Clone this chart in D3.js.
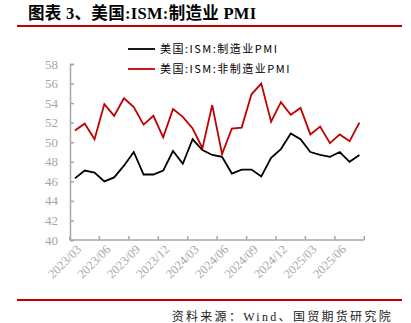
<!DOCTYPE html>
<html><head><meta charset="utf-8">
<script src="https://cdn.jsdelivr.net/npm/d3@7"></script>
<style>body{margin:0;background:#fff}svg{display:block}</style>
</head><body><svg id="c" width="411" height="323"></svg>
<script>
const months = ["2023/03","2023/04","2023/05","2023/06","2023/07","2023/08","2023/09","2023/10","2023/11","2023/12",
"2024/01","2024/02","2024/03","2024/04","2024/05","2024/06","2024/07","2024/08","2024/09","2024/10","2024/11","2024/12",
"2025/01","2025/02","2025/03","2025/04","2025/05","2025/06","2025/07","2025/08"];
const manufacturing = [46.3,47.1,46.9,46.0,46.4,47.6,49.0,46.7,46.7,47.1,49.1,47.8,50.3,49.2,48.7,48.5,46.8,47.2,47.2,46.5,48.4,49.3,50.9,50.3,49.0,48.7,48.5,49.0,48.0,48.7];
const nonManufacturing = [51.2,51.9,50.3,53.9,52.7,54.5,53.6,51.8,52.7,50.5,53.4,52.6,51.4,49.4,53.8,48.8,51.4,51.5,54.9,56.0,52.1,54.1,52.8,53.5,50.8,51.6,49.9,50.8,50.1,52.0];
const yTicks = [40,42,44,46,48,50,52,54,56,58];
const seriesNames = ["美国:ISM:制造业PMI","美国:ISM:非制造业PMI"];
const seriesColors = ["#000000","#c00000"];
const titleText = "图表 3、美国:ISM:制造业 PMI";
const sourceText = "资料来源：Wind、国贸期货研究院";

const svg = d3.select("#c");
const axisColor = "#a6a6a6";
const serif = "'Liberation Serif','Times New Roman','Noto Sans CJK SC',serif";

// title
svg.append("text").attr("x",28).attr("y",19).attr("font-family",serif).attr("font-weight","bold")
  .attr("font-size",16.5).attr("letter-spacing",0.3).attr("fill","#000").text(titleText);
svg.append("line").attr("x1",17).attr("x2",402).attr("y1",26).attr("y2",26).attr("stroke","#c00000").attr("stroke-width",2);
svg.append("line").attr("x1",17).attr("x2",402).attr("y1",300).attr("y2",300).attr("stroke","#c00000").attr("stroke-width",2);
svg.append("text").attr("x",393).attr("y",321).attr("text-anchor","end").attr("font-family",serif)
  .attr("font-size",12).attr("letter-spacing",2.3).attr("fill","#222").text(sourceText);

const x = d3.scaleBand().domain(months).range([70,364.3]).padding(0);
const y = d3.scaleLinear().domain([40,58]).range([240,64]);

// y axis
const ya = svg.append("g").attr("transform","translate(70,0)")
  .call(d3.axisRight(y).tickValues(yTicks).tickSize(4).tickFormat(""));
ya.select(".domain").attr("stroke",axisColor).attr("stroke-width",1.5);
ya.selectAll(".tick line").attr("stroke",axisColor).attr("stroke-width",1.5);
svg.append("g").selectAll("text").data(yTicks).join("text")
  .attr("x",58).attr("y",d=>y(d)).attr("dy","0.35em").attr("text-anchor","end")
  .attr("font-family",serif).attr("font-size",13).attr("fill",axisColor).text(d=>d);

// x axis
const step = x.step();
const boundaryIdx = d3.range(0, months.length+1, 3);
svg.append("line").attr("x1",70).attr("x2",x.range()[1]).attr("y1",240).attr("y2",240)
  .attr("stroke",axisColor).attr("stroke-width",1.5);
svg.append("g").selectAll("line").data(boundaryIdx).join("line")
  .attr("x1",i=>70+i*step).attr("x2",i=>70+i*step).attr("y1",240).attr("y2",236)
  .attr("stroke",axisColor).attr("stroke-width",1.5);
const labelMonths = months.filter((m,i)=>i%3===0);
svg.append("g").selectAll("text").data(labelMonths).join("text")
  .attr("transform",m=>`translate(${x(m)+x.bandwidth()/2+4},${247}) rotate(-45)`)
  .attr("text-anchor","end").attr("dy","0.35em")
  .attr("font-family",serif).attr("font-size",12.5).attr("fill",axisColor).text(m=>m);

// lines
const line = d3.line().x((d,i)=>x(months[i])+x.bandwidth()/2).y(d=>y(d));
[manufacturing, nonManufacturing].forEach((s,k)=>{
  svg.append("path").datum(s).attr("d",line).attr("fill","none")
    .attr("stroke",seriesColors[k]).attr("stroke-width",1.8).attr("stroke-linejoin","miter");
});

// legend
seriesNames.forEach((n,k)=>{
  const yy = 49 + k*20;
  svg.append("line").attr("x1",128).attr("x2",155).attr("y1",yy).attr("y2",yy)
    .attr("stroke",seriesColors[k]).attr("stroke-width",1.8);
  svg.append("text").attr("x",160).attr("y",yy).attr("dy","0.35em")
    .attr("font-family","'Noto Sans CJK SC',sans-serif").attr("font-size",11).attr("letter-spacing",1.5)
    .attr("fill","#000").text(n);
});
</script></body></html>
